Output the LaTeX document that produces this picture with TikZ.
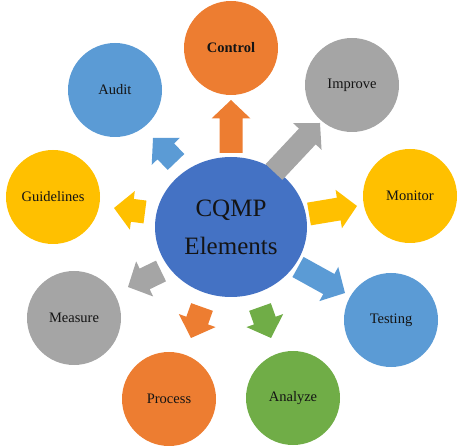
\documentclass[tikz,border=0pt]{standalone}
\usepackage{fontspec}
\setmainfont{Liberation Serif}
\usetikzlibrary{calc,shapes.geometric}
\definecolor{cblue}{HTML}{4472C4}
\definecolor{corange}{HTML}{ED7D31}
\definecolor{cgray}{HTML}{A5A5A5}
\definecolor{cyellow}{HTML}{FFC000}
\definecolor{clblue}{HTML}{5B9BD5}
\definecolor{cgreen}{HTML}{70AD47}
\definecolor{ctext}{HTML}{141414}
\tikzset{
  elem/.style={circle, fill=#1, minimum size=94pt, inner sep=0pt, text=ctext,
    font=\fontsize{14.5}{16}\selectfont},
  hub/.style={ellipse, fill=cblue, minimum width=152pt, minimum height=140pt, inner sep=0pt,
    text=ctext, align=center, font=\fontsize{25}{38}\selectfont},
}
\newcommand{\blockarr}[3]{% color, tail, tip
  \coordinate (hb) at ($(#3)!18.5pt!(#2)$);
  \fill[#1] ($(#2)!11.5pt!90:(#3)$) -- ($(hb)!11.5pt!-90:(#2)$) -- ($(hb)!19.5pt!-90:(#2)$)
    -- (#3) -- ($(hb)!19.5pt!90:(#2)$) -- ($(hb)!11.5pt!90:(#2)$) -- ($(#2)!11.5pt!-90:(#3)$) -- cycle;}
\begin{document}
\begin{tikzpicture}[x=1pt,y=-1pt]
\useasboundingbox (0,0) rectangle (474,446);
\node[hub] (hub) at (231,227) {CQMP\\Elements};
\node[elem=corange] (control) at (231,48) {\bfseries Control};
\node[elem=cgray] (improve) at (352,85) {Improve};
\node[elem=cyellow] (monitor) at (410,196) {Monitor};
\node[elem=clblue] (testing) at (391,320) {Testing};
\node[elem=cgreen] (analyze) at (293,398) {Analyze};
\node[elem=corange] (process) at (169,399) {Process};
\node[elem=cgray] (measure) at (74,318) {Measure};
\node[elem=cyellow] (guide) at (53,197) {Guidelines};
\node[elem=clblue] (audit) at (115,90) {Audit};
% arrow tails and tips
\coordinate (t1) at (231,153); \coordinate (p1) at (231,100);
\coordinate (t2) at (274,172); \coordinate (p2) at (320,123);
\coordinate (t3) at (309,214); \coordinate (p3) at (357,206);
\coordinate (t4) at (298,267); \coordinate (p4) at (345,293);
\coordinate (t5) at (260,307); \coordinate (p5) at (271,338);
\coordinate (t6) at (202,307); \coordinate (p6) at (191,338);
\coordinate (t7) at (161,271); \coordinate (p7) at (128,287);
\coordinate (t8) at (145,212); \coordinate (p8) at (114,208);
\coordinate (t9) at (176,162); \coordinate (p9) at (153,138);
\blockarr{corange}{t1}{p1}
\blockarr{cgray}{t2}{p2}
\blockarr{cyellow}{t3}{p3}
\blockarr{clblue}{t4}{p4}
\blockarr{cgreen}{t5}{p5}
\blockarr{corange}{t6}{p6}
\blockarr{cgray}{t7}{p7}
\blockarr{cyellow}{t8}{p8}
\blockarr{clblue}{t9}{p9}
\end{tikzpicture}
\end{document}
